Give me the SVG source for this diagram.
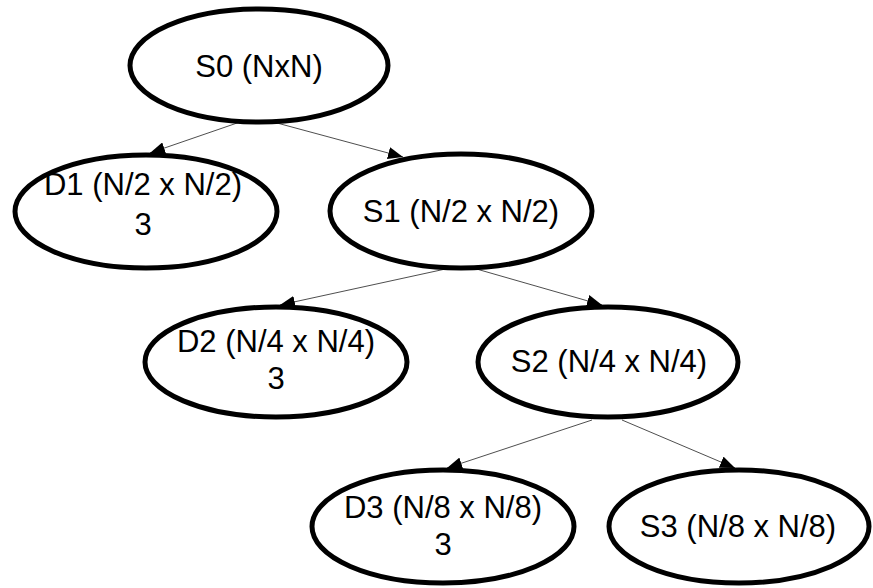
<svg xmlns="http://www.w3.org/2000/svg" width="873" height="588" viewBox="0 0 873 588">
  <style>
    .node ellipse { fill: #ffffff; stroke: #000000; stroke-width: 5; }
    .node text { font-family: "Liberation Sans", Arial, sans-serif; font-size: 31px; fill: #000000; text-anchor: middle; }
    .edge { stroke: #3a3a3a; stroke-width: 0.9; fill: none; marker-end: url(#arrow); }
  </style>
  <defs>
    <marker id="arrow" markerUnits="userSpaceOnUse" markerWidth="16" markerHeight="12" refX="15" refY="6" orient="auto">
      <path d="M0,0 L15,6 L0,12 Z" fill="#000000"/>
    </marker>
  </defs>
  <rect width="873" height="588" fill="#ffffff"/>

  <!-- connectors: parent bottom to child top -->
  <g id="edges">
    <line class="edge" x1="240" y1="122" x2="150" y2="153"/>
    <line class="edge" x1="277" y1="123" x2="403" y2="157"/>
    <line class="edge" x1="450" y1="268" x2="280" y2="305"/>
    <line class="edge" x1="473" y1="268" x2="602" y2="305"/>
    <line class="edge" x1="592" y1="420" x2="447" y2="468"/>
    <line class="edge" x1="622" y1="420" x2="735" y2="468"/>
  </g>

  <g id="S0" class="node">
    <ellipse cx="259" cy="65.5" rx="129" ry="56.5"/>
    <text x="259" y="76.5">S0 (NxN)</text>
  </g>
  <g id="D1" class="node">
    <ellipse cx="146" cy="211.5" rx="131" ry="56.5"/>
    <text x="143" y="195">D1 (N/2 x N/2)</text>
    <text x="143" y="235">3</text>
  </g>
  <g id="S1" class="node">
    <ellipse cx="461" cy="211" rx="131" ry="57"/>
    <text x="461" y="222">S1 (N/2 x N/2)</text>
  </g>
  <g id="D2" class="node">
    <ellipse cx="276" cy="362" rx="131" ry="55"/>
    <text x="276" y="352">D2 (N/4 x N/4)</text>
    <text x="276" y="389">3</text>
  </g>
  <g id="S2" class="node">
    <ellipse cx="608" cy="362" rx="130" ry="55"/>
    <text x="609" y="372">S2 (N/4 x N/4)</text>
  </g>
  <g id="D3" class="node">
    <ellipse cx="443" cy="526.5" rx="131" ry="56.5"/>
    <text x="443" y="518">D3 (N/8 x N/8)</text>
    <text x="443" y="555">3</text>
  </g>
  <g id="S3" class="node">
    <ellipse cx="739" cy="526.5" rx="130" ry="56.5"/>
    <text x="738" y="537">S3 (N/8 x N/8)</text>
  </g>
</svg>
